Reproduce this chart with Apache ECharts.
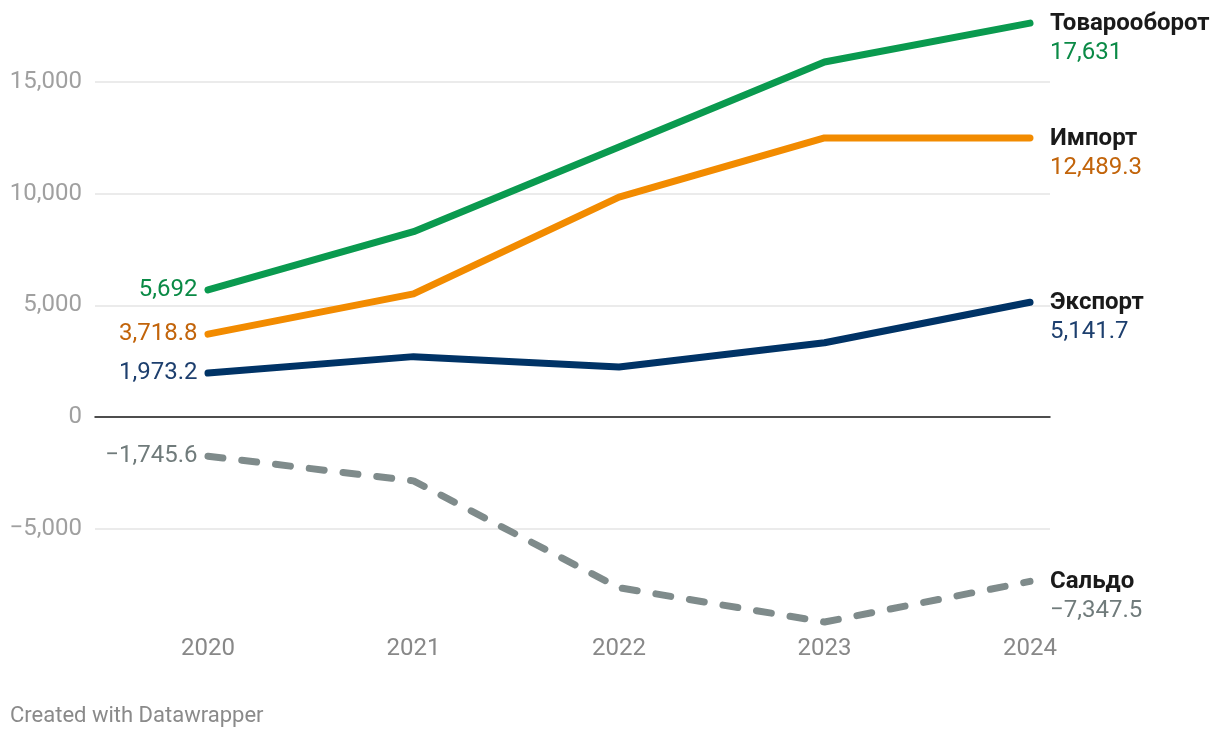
<!DOCTYPE html>
<html>
<head>
<meta charset="utf-8">
<script src="https://cdn.jsdelivr.net/npm/echarts@6/dist/echarts.min.js"></script>
<style>
html,body{margin:0;padding:0;background:#fff;}
#chart{width:1220px;height:738px;}
</style>
</head>
<body>
<div id="chart"></div>
<script>
const years = ['2020', '2021', '2022', '2023', '2024'];
const turnover = [5692, 8300, 12090, 15890, 17631];
const imports = [3718.8, 5520, 9850, 12497, 12489.3];
const exports = [1973.2, 2710, 2245, 3330, 5141.7];
const balance = [-1745.6, -2850, -7630, -9165, -7347.5];
const yTicks = [-5000, 0, 5000, 10000, 15000];

const FONT = 'Roboto';
const FS = 24;
const Y_MIN = -10000, Y_MAX = 18000;
// pixel mapping: 0 at y≈417, 0.02235 px per unit
const PX = 0.02235;
const ZERO_Y = 417.2;
const gridTop = ZERO_Y - Y_MAX * PX;
const gridBottom = 738 - (ZERO_Y - Y_MIN * PX);

function fmt(n) {
  const s = Math.abs(n).toLocaleString('en-US', {maximumFractionDigits: 1});
  return (n < 0 ? '\u2212' : '') + s;
}

const seriesDefs = [
  {name: 'Товарооборот', data: turnover, line: '#0a9a4f', text: '#0a8a46', dash: 'solid'},
  {name: 'Импорт', data: imports, line: '#f28b00', text: '#c2640a', dash: 'solid'},
  {name: 'Экспорт', data: exports, line: '#003366', text: '#1d3f6e', dash: 'solid'},
  {name: 'Сальдо', data: balance, line: '#7f8b8b', text: '#707b7b', dash: [15, 19]}
];

const series = seriesDefs.map(function (d) {
  return {
    name: d.name,
    type: 'line',
    xAxisIndex: 1,
    yAxisIndex: 1,
    symbol: 'circle',
    symbolSize: 1,
    showSymbol: true,
    itemStyle: {color: d.line},
    silent: true,
    lineStyle: {color: d.line, width: 7, cap: 'round', join: 'round', type: d.dash},
    label: {show: false},
    data: d.data.map(function (v, i) {
      if (i === 0) {
        return {
          value: v,
          label: {
            show: true, position: 'left', distance: 10,
            formatter: fmt(v), color: d.text,
            fontFamily: FONT, fontSize: FS
          }
        };
      }
      return v;
    }),
    endLabel: {
      show: true,
      offset: [12, 15],
      align: 'left',
      verticalAlign: 'middle',
      formatter: function () {
        return '{n|' + d.name + '}\n{v|' + fmt(d.data[d.data.length - 1]) + '}';
      },
      rich: {
        n: {fontFamily: FONT, fontSize: FS, fontWeight: 'bold', color: '#1a1a1a', lineHeight: 29},
        v: {fontFamily: FONT, fontSize: FS, color: d.text, lineHeight: 29}
      }
    },
    z: 10
  };
});

const option = {
  animation: false,
  backgroundColor: '#ffffff',
  grid: [
    {left: 95, right: 170, top: gridTop, bottom: gridBottom, containLabel: false},
    {left: 208, right: 190, top: gridTop, bottom: gridBottom, containLabel: false}
  ],
  xAxis: [
    {
      gridIndex: 0, type: 'value', min: 0, max: 1,
      axisLine: {show: true, onZero: true, lineStyle: {color: '#1a1a1a', width: 1.5}},
      axisTick: {show: false}, axisLabel: {show: false}, splitLine: {show: false}
    },
    {
      gridIndex: 1, type: 'category', data: years, boundaryGap: false,
      axisLine: {show: false, onZero: false}, axisTick: {show: false},
      axisLabel: {color: '#888888', fontFamily: FONT, fontSize: FS, margin: -4},
      splitLine: {show: false}
    }
  ],
  yAxis: [
    {
      gridIndex: 0, type: 'value', min: Y_MIN, max: Y_MAX, interval: 5000,
      axisLine: {show: false}, axisTick: {show: false},
      axisLabel: {
        color: '#a0a0a0', fontFamily: FONT, fontSize: FS, margin: 13,
        showMaxLabel: false, showMinLabel: false,
        formatter: function (v) { return yTicks.indexOf(v) >= 0 ? fmt(v) : ''; }
      },
      splitLine: {show: true, showMinLine: false, showMaxLine: false, lineStyle: {color: '#e5e5e5', width: 1.5}}
    },
    {
      gridIndex: 1, type: 'value', min: Y_MIN, max: Y_MAX, interval: 5000,
      show: false
    }
  ],
  series: series,
  graphic: [
    {
      type: 'text', left: 10, top: 705,
      style: {text: 'Created with Datawrapper', fill: '#8a8a8a', font: '22px Roboto'}
    }
  ]
};

const chart = echarts.init(document.getElementById('chart'), null, {renderer: 'canvas'});
chart.setOption(option);
</script>
</body>
</html>
